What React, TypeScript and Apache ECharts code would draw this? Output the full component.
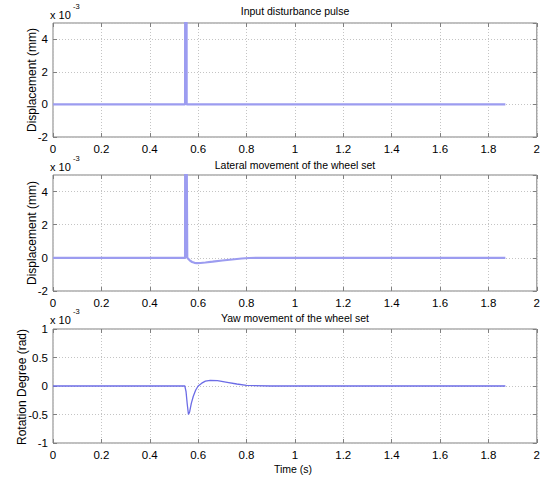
import React, { useEffect, useRef } from 'react';
import * as echarts from 'echarts';

// ---- data ----
const pulseTime = [0, 0.546, 0.5465, 0.552, 0.5525, 1.87];
const pulseDisp = [0, 0, 8, 8, 0, 0];

const lateralTime = [0, 0.546, 0.5465, 0.552, 0.555, 0.565, 0.575, 0.585, 0.595, 0.61, 0.63, 0.66, 0.7, 0.74, 0.78, 0.81, 0.85, 1.0, 1.87];
const lateralDisp = [0, 0, 8, 8, 0, -0.15, -0.25, -0.3, -0.32, -0.31, -0.28, -0.23, -0.16, -0.1, -0.04, -0.01, 0, 0, 0];

const yawTime = [0, 0.545, 0.55, 0.555, 0.56, 0.565, 0.572, 0.58, 0.59, 0.6, 0.615, 0.63, 0.65, 0.68, 0.72, 0.76, 0.8, 0.9, 1.87];
const yawRot = [0, 0, -0.1, -0.32, -0.5, -0.45, -0.3, -0.18, -0.07, 0, 0.05, 0.085, 0.1, 0.095, 0.065, 0.035, 0.012, 0, 0];

const titles = ['Input disturbance pulse', 'Lateral movement of the wheel set', 'Yaw movement of the wheel set'];
const yNames = ['Displacement (mm)', 'Displacement (mm)', 'Rotation Degree (rad)'];
const yRanges = [
  { min: -2, max: 5, interval: 2 },
  { min: -2, max: 5, interval: 2 },
  { min: -1, max: 1, interval: 0.5 },
];
const xRange = { min: 0, max: 2, interval: 0.2 };
const xName = 'Time (s)';
const exponentBase = 'x 10';
const exponentPow = '-3';

const FONT = 'Arial, "Liberation Sans", sans-serif';
const FRAME = '#808080';

export default function App() {
  const ref = useRef<HTMLDivElement>(null);
  useEffect(() => {
    if (!ref.current) return;
    const chart = echarts.init(ref.current, undefined, { renderer: 'svg' });
    const grids = [
      { left: 53, top: 23, width: 484, height: 114 },
      { left: 53, top: 175, width: 484, height: 116 },
      { left: 53, top: 329, width: 484, height: 114 },
    ];
    const series: any[] = [];
    const xAxes: any[] = [];
    const yAxes: any[] = [];
    const datasets = [
      { t: pulseTime, v: pulseDisp, color: '#9c9cf0', w: 2.2 },
      { t: lateralTime, v: lateralDisp, color: '#9c9cf0', w: 2.2 },
      { t: yawTime, v: yawRot, color: '#6c6ce6', w: 1.3 },
    ];
    grids.forEach((g, i) => {
      const tick = { show: true, inside: true, length: 4, lineStyle: { color: FRAME } };
      xAxes.push({
        type: 'value', gridIndex: i, position: 'bottom', ...xRange,
        axisLine: { show: false, onZero: false },
        axisTick: tick,
        axisLabel: { fontSize: 11.5, fontFamily: FONT, color: '#000', margin: 6 },
        splitLine: { show: true, lineStyle: { type: [1, 2], color: '#c4c4c4' } },
      });
      xAxes.push({
        type: 'value', gridIndex: i, position: 'top', ...xRange,
        axisLine: { show: false, onZero: false },
        axisTick: tick, axisLabel: { show: false }, splitLine: { show: false },
      });
      const yr = yRanges[i];
      yAxes.push({
        type: 'value', gridIndex: i, position: 'left', ...yr,
        axisLine: { show: false, onZero: false },
        axisTick: tick,
        axisLabel: { fontSize: 11.5, fontFamily: FONT, color: '#000', margin: 5, showMaxLabel: yr.max === 1 },
        splitLine: { show: true, lineStyle: { type: [1, 2], color: '#c4c4c4' } },
      });
      yAxes.push({
        type: 'value', gridIndex: i, position: 'right', ...yr,
        axisLine: { show: false, onZero: false },
        axisTick: tick, axisLabel: { show: false }, splitLine: { show: false },
      });
      const d = datasets[i];
      series.push({
        type: 'line', xAxisIndex: i * 2, yAxisIndex: i * 2,
        data: d.t.map((t, k) => [t, d.v[k]]),
        showSymbol: false, symbol: 'none', clip: true,
        lineStyle: { color: d.color, width: d.w },
      });
    });

    const titleY = [11, 165, 318];
    const expY = [15, 167, 320];
    const yNameX = [32, 32, 22];
    const yNameY = [80, 233, 387];
    const graphic: any[] = [];
    titles.forEach((t, i) => {
      graphic.push({ type: 'text', x: 295, y: titleY[i], style: { text: t, font: `10.5px ${FONT}`, fill: '#000', align: 'center', verticalAlign: 'middle' } });
      graphic.push({ type: 'text', x: 50, y: expY[i], style: { text: exponentBase, font: `11px ${FONT}`, fill: '#000', align: 'left', verticalAlign: 'middle' } });
      graphic.push({ type: 'text', x: 73, y: expY[i] - 9, style: { text: exponentPow, font: `7.5px ${FONT}`, fill: '#000', align: 'left', verticalAlign: 'middle' } });
      graphic.push({ type: 'text', x: yNameX[i], y: yNameY[i], rotation: Math.PI / 2, style: { text: yNames[i], font: `12px ${FONT}`, fill: '#000', align: 'center', verticalAlign: 'middle' } });
    });
    graphic.push({ type: 'text', x: 293, y: 469, style: { text: xName, font: `10.5px ${FONT}`, fill: '#000', align: 'center', verticalAlign: 'middle' } });

    chart.setOption({
      animation: false,
      backgroundColor: '#fff',
      grid: grids.map((g) => ({ ...g, show: true, borderColor: FRAME, borderWidth: 1, backgroundColor: '#fff', containLabel: false })),
      xAxis: xAxes,
      yAxis: yAxes,
      series,
      graphic,
    });
    return () => chart.dispose();
  }, []);
  return <div ref={ref} style={{ position: 'fixed', left: 0, top: 0, width: 543, height: 479 }} />;
}
